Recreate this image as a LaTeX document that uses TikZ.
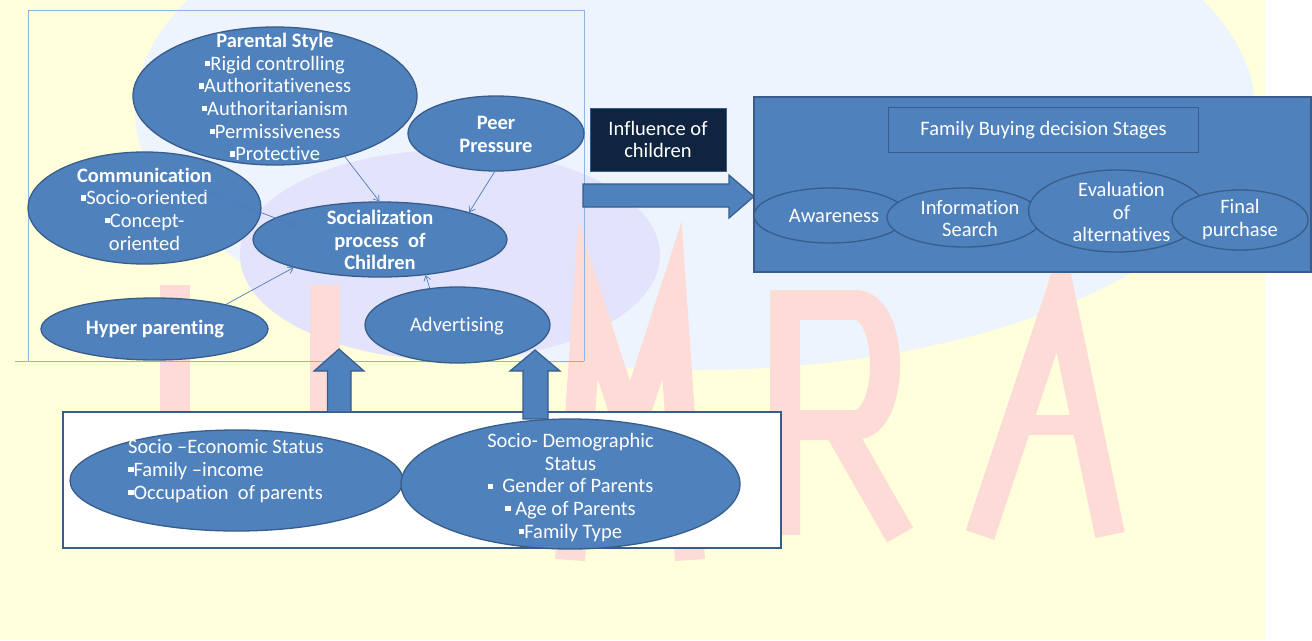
\documentclass[tikz,border=0pt]{standalone}
\usepackage{fontspec}
\setmainfont{Carlito}[Ligatures=NoCommon]
\usetikzlibrary{shapes.geometric,arrows.meta,calc}
\definecolor{obl}{HTML}{4F81BD}
\definecolor{edgeb}{HTML}{385D8A}
\definecolor{navy}{HTML}{0F243E}
\definecolor{frameb}{HTML}{8DB3E2}
\definecolor{connb}{HTML}{4A7EBB}
\definecolor{bgy}{HTML}{FFFFDC}
\definecolor{globe}{HTML}{EEF4FE}
\definecolor{lav}{HTML}{E3E3FC}
\definecolor{pinkw}{HTML}{FDDBD7}
\newcommand\bul{\rule[0.2em]{0.26em}{0.26em}}
\begin{document}
\begin{tikzpicture}[x=1pt,y=-1pt,
  ell/.style={ellipse, draw=edgeb, fill=obl, line width=1.3pt, inner sep=0pt},
  txt/.style={text=white, align=center, font=\fontsize{20.5}{22.6}\selectfont, inner sep=0pt},
  conn/.style={draw=connb, line width=0.7pt, -{Straight Barb[length=5pt,width=7pt]}},
  blockarrow/.style={fill=obl, draw=edgeb, line width=1.2pt},
  frameline/.style={draw=frameb, line width=1pt},
  wm/.style={draw=pinkw, line width=30pt, line cap=butt, line join=miter}
]
\useasboundingbox (0,0) rectangle (1312,640);
% background and faint watermark
\fill[white] (0,0) rectangle (1312,640);
\fill[bgy] (0,0) rectangle (1265,640);
\fill[globe] (695,110) ellipse [x radius=560, y radius=260];
\fill[lav] (450,255) ellipse [x radius=210, y radius=105];
\draw[wm] (175,285) -- (175,420);
\draw[wm] (325,285) -- (325,420);
\draw[wm] (570,560) -- (588,300) -- (630,430) -- (672,300) -- (690,560);
\draw[wm] (785,535) -- (785,305) -- (855,305) .. controls (895,305) and (895,425) .. (855,425) -- (790,425);
\draw[wm] (840,430) -- (900,535);
\draw[wm] (980,535) -- (1060,295) -- (1110,535);
\draw[wm, line width=20pt] (1015,425) -- (1090,425);

% top-left frame
\draw[frameline] (28,361) -- (28,10) -- (584,10) -- (584,361);
\draw[frameline] (15,361) -- (584,361);

% left cluster
\node[ell, minimum width=284, minimum height=138] (ps) at (275,96) {};
\node[txt] (pst) at (275,97) {\textbf{Parental Style}\\\bul Rigid controlling\\\bul Authoritativeness\\\bul Authoritarianism\\\bul Permissiveness\\\bul Protective};
\node[ell, minimum width=176, minimum height=75] (peer) at (496,133.5) {};
\node[txt, font=\bfseries\fontsize{20.5}{22.6}\selectfont] (peert) at (496,134.5) {Peer\\Pressure};
\node[ell, minimum width=233, minimum height=112] (comm) at (144.5,208) {};
\node[txt] (commt) at (144.5,209) {\textbf{Communication}\\\bul Socio-oriented\\\bul Concept-\\oriented};
\node[ell, minimum width=254, minimum height=75] (soc) at (380,239.5) {};
\node[txt, font=\bfseries\fontsize{20.5}{22.6}\selectfont] (soct) at (380,240) {Socialization\\process\ \ of\\Children};
\node[ell, minimum width=227, minimum height=62] (hyp) at (154.5,329) {};
\node[txt, font=\bfseries\fontsize{20.5}{22.6}\selectfont] (hypt) at (155,329.5) {Hyper parenting};
\node[ell, minimum width=185, minimum height=76] (adv) at (457.5,325) {};
\node[txt] (advt) at (457,326) {Advertising};

% connectors
\draw[conn] (ps.-41) -- (soc.91);
\draw[conn] (peer.-92) -- (soc.17);
\draw[conn] ($(comm.center)+(36,-26)$) -- ($(soc.center)+(-85,-14)$);
\draw[conn] (hyp.19) -- (soc.-162);
\draw[conn] (adv.127) -- (soc.-38);

% influence and big arrow
\node[txt, fill=navy, draw=edgeb, line width=1pt, minimum width=136, minimum height=63] (infl) at (658,139.5) {Influence of\\children};
\draw[blockarrow] (583,184) -- (729,184) -- (729,175) -- (754,196.5) -- (729,218) -- (729,207) -- (583,207) -- cycle;

% right panel
\node[rectangle, fill=obl, draw=edgeb, line width=1.5pt, minimum width=557, minimum height=175, inner sep=0pt] (stages) at (1032.5,184.5) {};
\node[txt, rectangle, draw=edgeb, line width=1.5pt, minimum width=310, minimum height=45] (ttl) at (1043.5,130) {Family Buying decision Stages};
\node[ell, minimum width=153, minimum height=55] (aw) at (830.5,215.5) {};
\node[txt] (awt) at (834,216) {Awareness};
\node[ell, minimum width=155, minimum height=59] (inf) at (964.5,217.5) {};
\node[txt] (inft) at (970,218.5) {Information\\Search};
\node[ell, minimum width=177, minimum height=82] (ev) at (1117,211) {};
\node[txt] (evt) at (1121.5,212) {Evaluation\\of\\alternatives};
\node[ell, minimum width=136, minimum height=60] (fin) at (1240,220) {};
\node[txt] (fint) at (1240,219.5) {Final\\purchase};

% bottom panel
\node[rectangle, fill=white, draw=edgeb, line width=1.5pt, minimum width=718, minimum height=136, inner sep=0pt] (stat) at (422,480) {};
\node[ell, minimum width=333, minimum height=101] (sec) at (236.5,480.5) {};
\node[txt, align=left, anchor=west] (sect) at (128,471) {Socio \textendash Economic Status\\\bul Family \textendash income\\\bul Occupation\ \ of parents};
\node[ell, minimum width=339, minimum height=130] (sdem) at (570.5,484) {};
\node[txt] (sdemt) at (570.5,487.5) {Socio- Demographic\\Status\\\bul\ \ Gender of Parents\\\bul\ Age of Parents\\\bul Family Type};

% up arrows
\draw[blockarrow] (327.5,412) -- (327.5,371) -- (314,371) -- (339,349) -- (364,371) -- (351,371) -- (351,412) -- cycle;
\draw[blockarrow] (523,419) -- (523,371) -- (510,371) -- (535,350) -- (560,371) -- (548,371) -- (548,419) -- cycle;
\end{tikzpicture}
\end{document}
